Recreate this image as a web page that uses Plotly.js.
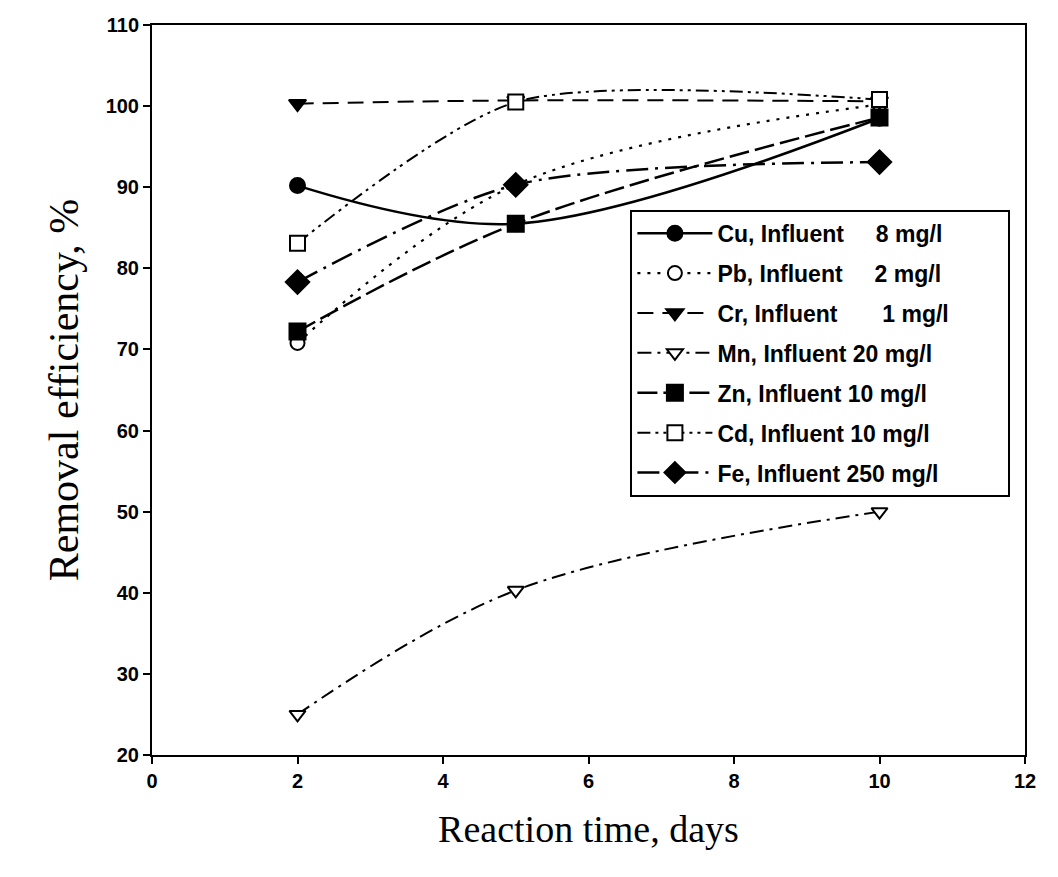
<!DOCTYPE html>
<html>
<head>
<meta charset="utf-8">
<script src="https://cdn.plot.ly/plotly-3.0.1.min.js"></script>
<style>body{margin:0;background:#fff}#chart{width:1058px;height:877px}</style>
</head>
<body>
<div id="chart"></div>
<script>
const days = [2, 5, 10];
const cu = [90.2, 85.5, 98.5];
const pb = [70.8, 90.3, 100.2];
const cr = [100.3, 100.7, 100.6];
const mn = [25.0, 40.3, 50.0];
const zn = [72.2, 85.5, 98.6];
const cd = [83.1, 100.5, 100.8];
const fe = [78.3, 90.3, 93.1];

const names = [
  "Cu, Influent \u2007\u20078 mg/l",
  "Pb, Influent \u2007\u20072 mg/l",
  "Cr, Influent \u2007\u2007\u20071 mg/l",
  "Mn, Influent 20 mg/l",
  "Zn, Influent 10 mg/l",
  "Cd, Influent 10 mg/l",
  "Fe, Influent 250 mg/l\u2007\u2007\u2007\u2007\u2007"
];

function tr(y, name, symbol, filled, dash, width, size, smooth) {
  return {
    x: days, y: y, name: name, legendgroup: name, type: 'scatter', mode: 'lines+markers',
    line: {shape: 'spline', smoothing: smooth, color: '#000', width: width, dash: dash},
    marker: {symbol: symbol, size: size, color: filled ? '#000' : '#fff', line: {color: '#000', width: 2}}
  };
}

const data = [
  tr(cu, names[0], 'circle', true, 'solid', 2.5, 15, 1),
  tr(pb, names[1], 'circle', false, '3px,7px', 2.2, 14, 1),
  tr(cr, names[2], 'triangle-down', true, '16px,9px', 2, 15, 1),
  tr(mn, names[3], 'triangle-down', false, '14px,6px,3px,6px', 2, 14, 1),
  tr(zn, names[4], 'square', true, '20px,6px', 2.5, 16, 1),
  tr(cd, names[5], 'square', false, '13px,5px,3px,5px,3px,5px', 2, 15, 0.75),
  tr(fe, names[6], 'diamond', true, '22px,7px,3px,7px', 2.5, 18, 0.8)
];

const layout = {
  width: 1058, height: 877,
  paper_bgcolor: '#fff', plot_bgcolor: '#fff',
  margin: {l: 152, r: 33, t: 25, b: 122},
  showlegend: true,
  legend: {
    x: 0.548, y: 0.747, xanchor: 'left', yanchor: 'top',
    bgcolor: '#fff', bordercolor: '#000', borderwidth: 2,
    font: {family: 'Liberation Sans, Arial, sans-serif', size: 23, color: '#000', weight: 'bold'},
    itemwidth: 75, tracegroupgap: 7, traceorder: 'grouped'
  },
  xaxis: {
    range: [0, 12], dtick: 2, tick0: 0,
    showgrid: false, zeroline: false,
    showline: true, linecolor: '#000', linewidth: 2, mirror: true,
    ticks: 'outside', ticklen: 7, tickwidth: 2, tickcolor: '#000',
    tickfont: {family: 'Liberation Sans, Arial, sans-serif', size: 20, color: '#000', weight: 'bold'},
    title: {text: 'Reaction time, days', font: {family: 'Liberation Serif, Times New Roman, serif', size: 38, color: '#000'}, standoff: 24}
  },
  yaxis: {
    range: [20, 110], dtick: 10, tick0: 20,
    showgrid: false, zeroline: false,
    showline: true, linecolor: '#000', linewidth: 2, mirror: true,
    ticks: 'outside', ticklen: 7, tickwidth: 2, tickcolor: '#000',
    tickfont: {family: 'Liberation Sans, Arial, sans-serif', size: 20, color: '#000', weight: 'bold'},
    title: {text: 'Removal efficiency, %', font: {family: 'Liberation Serif, Times New Roman, serif', size: 42, color: '#000'}, standoff: 14}
  }
};

Plotly.newPlot('chart', data, layout, {displayModeBar: false, staticPlot: true});
</script>
</body>
</html>
